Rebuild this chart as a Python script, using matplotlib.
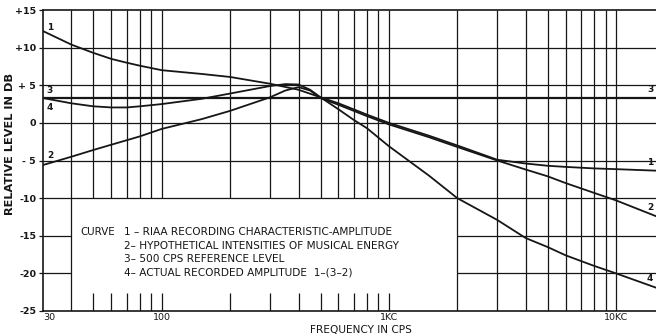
import matplotlib
matplotlib.use("Agg")
import matplotlib.pyplot as plt

# ---- values ----
# curve 1: RIAA recording characteristic (amplitude)
freq_1 = [30, 40, 50, 60, 70, 80, 100, 150, 200, 300, 400, 500, 600, 700, 800,
          1000, 1500, 2000, 3000, 4000, 5000, 6000, 8000, 10000, 15000]
level_1 = [12.2, 10.4, 9.3, 8.5, 8.0, 7.6, 7.0, 6.5, 6.1, 5.2, 4.4, 3.4, 2.6, 1.8, 1.1,
           0.0, -1.7, -3.0, -4.9, -5.4, -5.7, -5.85, -6.05, -6.15, -6.35]

# curve 2: hypothetical intensities of musical energy
freq_2 = [30, 40, 50, 60, 80, 100, 150, 200, 300, 350, 400, 450, 500, 600, 700, 800,
          1000, 1500, 2000, 3000, 4000, 5000, 6000, 8000, 10000, 15000]
level_2 = [-5.6, -4.5, -3.6, -2.9, -1.8, -0.8, 0.5, 1.6, 3.4, 4.3, 4.75, 4.3, 3.3, 2.4, 1.6, 0.9,
           -0.2, -1.9, -3.2, -5.0, -6.2, -7.1, -8.0, -9.3, -10.3, -12.4]

# curve 3: 500 cps reference level
ref_level = 3.35

# curve 4: actual recorded amplitude 1-(3-2)
freq_4 = [30, 40, 50, 60, 70, 80, 100, 150, 200, 300, 350, 400, 450, 500, 600, 700, 800,
          1000, 1500, 2000, 3000, 4000, 5000, 6000, 8000, 10000, 15000]
level_4 = [3.3, 2.6, 2.2, 2.05, 2.05, 2.2, 2.5, 3.2, 3.9, 4.9, 5.15, 5.1, 4.4, 3.4, 1.8, 0.4, -0.7,
           -3.1, -7.0, -10.0, -12.9, -15.3, -16.5, -17.6, -19.0, -20.0, -21.9]

v_grid = [40, 50, 60, 70, 80, 90, 100, 200, 300, 400, 500, 600, 700, 800, 900,
          1000, 2000, 3000, 4000, 5000, 6000, 7000, 8000, 9000, 10000]
h_grid = [-20, -15, -10, -5, 0, 5, 10]

x_ticks = [30, 100, 1000, 10000]
x_labels = ["30", "100", "1KC", "10KC"]
y_ticks = [-25, -20, -15, -10, -5, 0, 5, 10, 15]
y_labels = ["-25", "-20", "-15", "-10", "- 5", "0", "+ 5", "+10", "+15"]

legend_lines = ["1 \u2013 RIAA RECORDING CHARACTERISTIC-AMPLITUDE",
                "2\u2013 HYPOTHETICAL INTENSITIES OF MUSICAL ENERGY",
                "3\u2013 500 CPS REFERENCE LEVEL",
                "4\u2013 ACTUAL RECORDED AMPLITUDE  1\u2013(3\u20132)"]

ink = "#161616"
plt.rcParams['font.family'] = ['DejaVu Sans']

fig = plt.figure(figsize=(6.56, 3.36), dpi=100)
ax = fig.add_axes([43 / 656, 25 / 336, 613 / 656, 301 / 336])
ax.set_xscale("log")
ax.set_xlim(30, 15000)
ax.set_ylim(-25, 15)

# legend panel blanks out the grid between 40 and 2000 cps
box_lo, box_hi = -22.6, -10
for f in v_grid:
    if 40 < f < 2000:
        ax.vlines(f, -25, box_lo, color=ink, lw=0.9, zorder=1)
        ax.vlines(f, box_hi, 15, color=ink, lw=0.9, zorder=1)
    else:
        ax.vlines(f, -25, 15, color=ink, lw=0.9, zorder=1)
for y in h_grid:
    if box_lo < y < box_hi:
        ax.hlines(y, 30, 40, color=ink, lw=0.9, zorder=1)
        ax.hlines(y, 2000, 15000, color=ink, lw=0.9, zorder=1)
    else:
        ax.hlines(y, 30, 15000, color=ink, lw=0.9, zorder=1)

ax.axhline(ref_level, color=ink, lw=1.6, zorder=2)
ax.plot(freq_1, level_1, color=ink, lw=1.3, zorder=3)
ax.plot(freq_2, level_2, color=ink, lw=1.3, zorder=3)
ax.plot(freq_4, level_4, color=ink, lw=1.3, zorder=3)

# curve numbers at both ends
lab = dict(fontsize=6.5, color=ink, fontweight="bold", va="center")
ax.text(31.2, 12.7, "1", ha="left", **lab)
ax.text(31.2, 4.25, "3", ha="left", **lab)
ax.text(31.2, 2.0, "4", ha="left", **lab)
ax.text(31.2, -4.3, "2", ha="left", **lab)
ax.text(13700, 4.4, "3", ha="left", **lab)
ax.text(13700, -5.3, "1", ha="left", **lab)
ax.text(13700, -11.3, "2", ha="left", **lab)
ax.text(13700, -20.7, "4", ha="left", **lab)

# legend text
ax.text(44.0, -14.5, "CURVE", fontsize=7.4, color=ink, va="center", ha="left")
for i, line in enumerate(legend_lines):
    ax.text(68.5, -14.5 - 1.8 * i, line, fontsize=7.6, color=ink, va="center", ha="left")

ax.set_xticks(x_ticks)
ax.set_xticklabels(x_labels, fontsize=6.8, color=ink)
ax.xaxis.set_minor_locator(matplotlib.ticker.NullLocator())
ax.set_yticks(y_ticks)
ax.set_yticklabels(y_labels, fontsize=6.8, color=ink, fontweight="bold")
ax.tick_params(axis="x", length=0, pad=1.5)
ax.tick_params(axis="y", length=3, width=0.9, pad=2, color=ink)
ax.get_xticklabels()[0].set_horizontalalignment("left")

for side in ["left", "bottom", "top"]:
    ax.spines[side].set_linewidth(1.2)
    ax.spines[side].set_color(ink)
ax.spines["right"].set_visible(False)

fig.text(10 / 656, 1 - 144 / 336, "RELATIVE LEVEL IN DB", rotation=90,
         fontsize=8.2, color=ink, fontweight="bold", ha="center", va="center")
fig.text(361 / 656, 1 - 330 / 336, "FREQUENCY IN CPS", fontsize=7.6,
         color=ink, ha="center", va="center")

fig.savefig("out.png", dpi=100, facecolor="white")
